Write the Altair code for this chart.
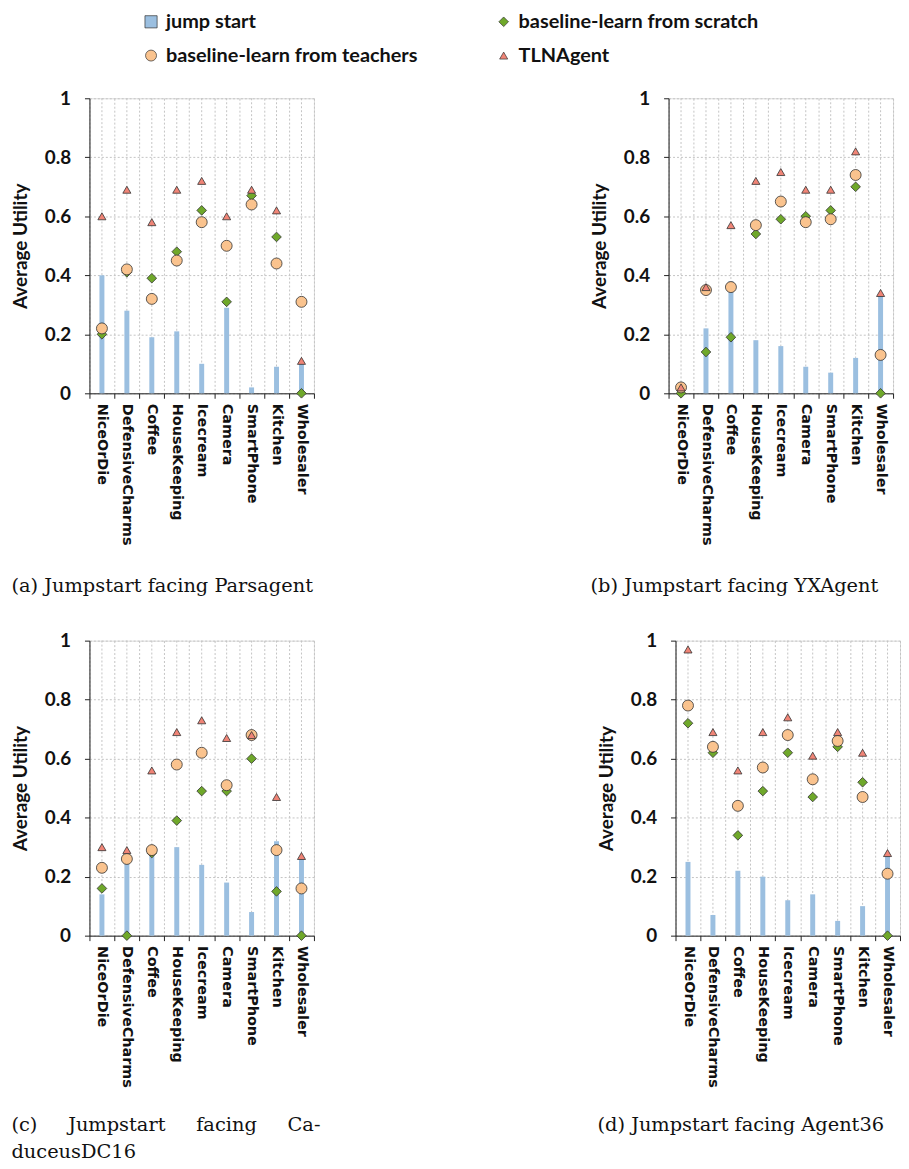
import altair as alt
import pandas as pd

categories = ["NiceOrDie", "DefensiveCharms", "Coffee", "HouseKeeping", "Icecream",
              "Camera", "SmartPhone", "Kitchen", "Wholesaler"]
# legend order (filled column by column: col 1 = first two, col 2 = last two)
series_names = ["jump start", "baseline-learn from teachers",
                "baseline-learn from scratch", "TLNAgent"]
series_colors = ["#9BBFE0", "#FAC38E", "#6FA82A", "#F08476"]
series_shapes = ["square", "circle", "diamond", "triangle-up"]
series_sizes = [150, 66, 30, 115]

# panel (a) Parsagent
jump_a = [0.40, 0.28, 0.19, 0.21, 0.10, 0.29, 0.02, 0.09, 0.10]
scratch_a = [0.20, 0.41, 0.39, 0.48, 0.62, 0.31, 0.67, 0.53, 0.00]
teachers_a = [0.22, 0.42, 0.32, 0.45, 0.58, 0.50, 0.64, 0.44, 0.31]
tln_a = [0.60, 0.69, 0.58, 0.69, 0.72, 0.60, 0.69, 0.62, 0.11]

# panel (b) YXAgent
jump_b = [0.00, 0.22, 0.38, 0.18, 0.16, 0.09, 0.07, 0.12, 0.33]
scratch_b = [0.00, 0.14, 0.19, 0.54, 0.59, 0.60, 0.62, 0.70, 0.00]
teachers_b = [0.02, 0.35, 0.36, 0.57, 0.65, 0.58, 0.59, 0.74, 0.13]
tln_b = [0.02, 0.36, 0.57, 0.72, 0.75, 0.69, 0.69, 0.82, 0.34]

# panel (c) CaduceusDC16
jump_c = [0.14, 0.26, 0.28, 0.30, 0.24, 0.18, 0.08, 0.32, 0.26]
scratch_c = [0.16, 0.00, 0.28, 0.39, 0.49, 0.49, 0.60, 0.15, 0.00]
teachers_c = [0.23, 0.26, 0.29, 0.58, 0.62, 0.51, 0.68, 0.29, 0.16]
tln_c = [0.30, 0.29, 0.56, 0.69, 0.73, 0.67, 0.68, 0.47, 0.27]

# panel (d) Agent36
jump_d = [0.25, 0.07, 0.22, 0.20, 0.12, 0.14, 0.05, 0.10, 0.27]
scratch_d = [0.72, 0.62, 0.34, 0.49, 0.62, 0.47, 0.64, 0.52, 0.00]
teachers_d = [0.78, 0.64, 0.44, 0.57, 0.68, 0.53, 0.66, 0.47, 0.21]
tln_d = [0.97, 0.69, 0.56, 0.69, 0.74, 0.61, 0.69, 0.62, 0.28]

NB = "\u00a0"
captions = {
    "a": "(a) Jumpstart facing Parsagent",
    "b": "(b) Jumpstart facing YXAgent",
    "c": ["(c)" + NB * 5 + "Jumpstart" + NB * 5 + "facing" + NB * 5 + "Ca-", "duceusDC16"],
    "d": "(d) Jumpstart facing Agent36",
}
caption_offsets = {"a": 32, "b": 32, "c": 29, "d": 29}

# data order: scratch, teachers, TLNAgent (drawing order of markers)
panel_data = {
    "a": {"jump start": jump_a, "baseline-learn from scratch": scratch_a,
          "baseline-learn from teachers": teachers_a, "TLNAgent": tln_a},
    "b": {"jump start": jump_b, "baseline-learn from scratch": scratch_b,
          "baseline-learn from teachers": teachers_b, "TLNAgent": tln_b},
    "c": {"jump start": jump_c, "baseline-learn from scratch": scratch_c,
          "baseline-learn from teachers": teachers_c, "TLNAgent": tln_c},
    "d": {"jump start": jump_d, "baseline-learn from scratch": scratch_d,
          "baseline-learn from teachers": teachers_d, "TLNAgent": tln_d},
}

rows = []
for key, series_map in panel_data.items():
    for s, vals in series_map.items():
        for c, v in zip(categories, vals):
            rows.append({"panel": key, "category": c, "series": s, "value": v})
df = pd.DataFrame(rows)
cat_df = pd.DataFrame({"category": categories})

LABEL_FONT = "Lato"

legend = alt.Legend(
    title=None, orient="none", legendX=52, legendY=-87, columns=2,
    columnPadding=76, rowPadding=14, padding=0, labelFont=LABEL_FONT, labelFontSize=20,
    labelFontWeight="bold", labelColor="#111", labelLimit=400, labelOffset=5,
    symbolStrokeColor="#333", symbolStrokeWidth=0.7,
)

color = alt.Color("series:N", scale=alt.Scale(domain=series_names, range=series_colors), legend=legend)
shape = alt.Shape("series:N", scale=alt.Scale(domain=series_names, range=series_shapes), legend=legend)
size = alt.Size("series:N", scale=alt.Scale(domain=series_names, range=series_sizes), legend=legend)


def make_panel(key):
    x = alt.X(
        "category:N", sort=categories,
        scale=alt.Scale(domain=categories, paddingInner=0, paddingOuter=0),
        axis=alt.Axis(
            title=None, labelAngle=90, tickBand="extent", grid=True,
            gridDash=[2, 2], gridColor="#c4c4c4", tickSize=5, tickColor="#222",
            domainColor="#222", labelFont="DejaVu Sans", labelFontSize=14.5,
            labelFontWeight="bold", labelColor="#111", labelPadding=5,
            labelAlign="left", labelBaseline="middle",
        ),
    )
    y = alt.Y(
        "value:Q",
        scale=alt.Scale(domain=[0, 1], nice=False),
        axis=alt.Axis(
            title="Average Utility", values=[0, 0.2, 0.4, 0.6, 0.8, 1.0],
            format=".1~f", grid=True, gridDash=[2, 2], gridColor="#c4c4c4",
            labelFont=LABEL_FONT, labelFontSize=19, labelFontWeight="bold",
            labelColor="#111", labelPadding=14, tickSize=5, tickColor="#222",
            domainColor="#222", titleFont=LABEL_FONT, titleFontSize=19,
            titleFontWeight="bold", titleColor="#111", titlePadding=14,
        ),
    )
    base = alt.Chart(df).transform_filter(alt.datum.panel == key)
    center_grid = alt.Chart(cat_df).mark_rule(
        color="#c4c4c4", strokeDash=[2, 2], strokeWidth=1
    ).encode(x=x)
    bars = base.transform_filter(alt.datum.series == "jump start").mark_bar(size=5).encode(
        x=x, y=y, color=color
    )
    points = base.transform_filter(alt.datum.series != "jump start").mark_point(
        filled=True, stroke="#333", strokeWidth=0.8, opacity=1
    ).encode(x=x, y=y, color=color, shape=shape, size=size)
    cap = captions[key]
    title = alt.TitleParams(
        text=cap, orient="bottom", anchor="start", frame="bounds",
        font="DejaVu Serif", fontSize=19.5, fontWeight="normal", color="#111",
        offset=caption_offsets[key], lineHeight=27,
    )
    return alt.layer(center_grid, bars, points).properties(
        width=226, height=297, title=title
    )


row1 = alt.hconcat(make_panel("a"), make_panel("b"), spacing=276)
row2 = alt.hconcat(make_panel("c"), make_panel("d"), spacing=276)
chart = alt.vconcat(row1, row2, spacing=35).properties(
    padding={"left": 2, "top": 0, "right": 0, "bottom": 0}
).configure_view(
    stroke="#444", strokeWidth=1
).configure(background="white")

chart.save("out.html", embed_options={"renderer": "svg", "actions": False})
